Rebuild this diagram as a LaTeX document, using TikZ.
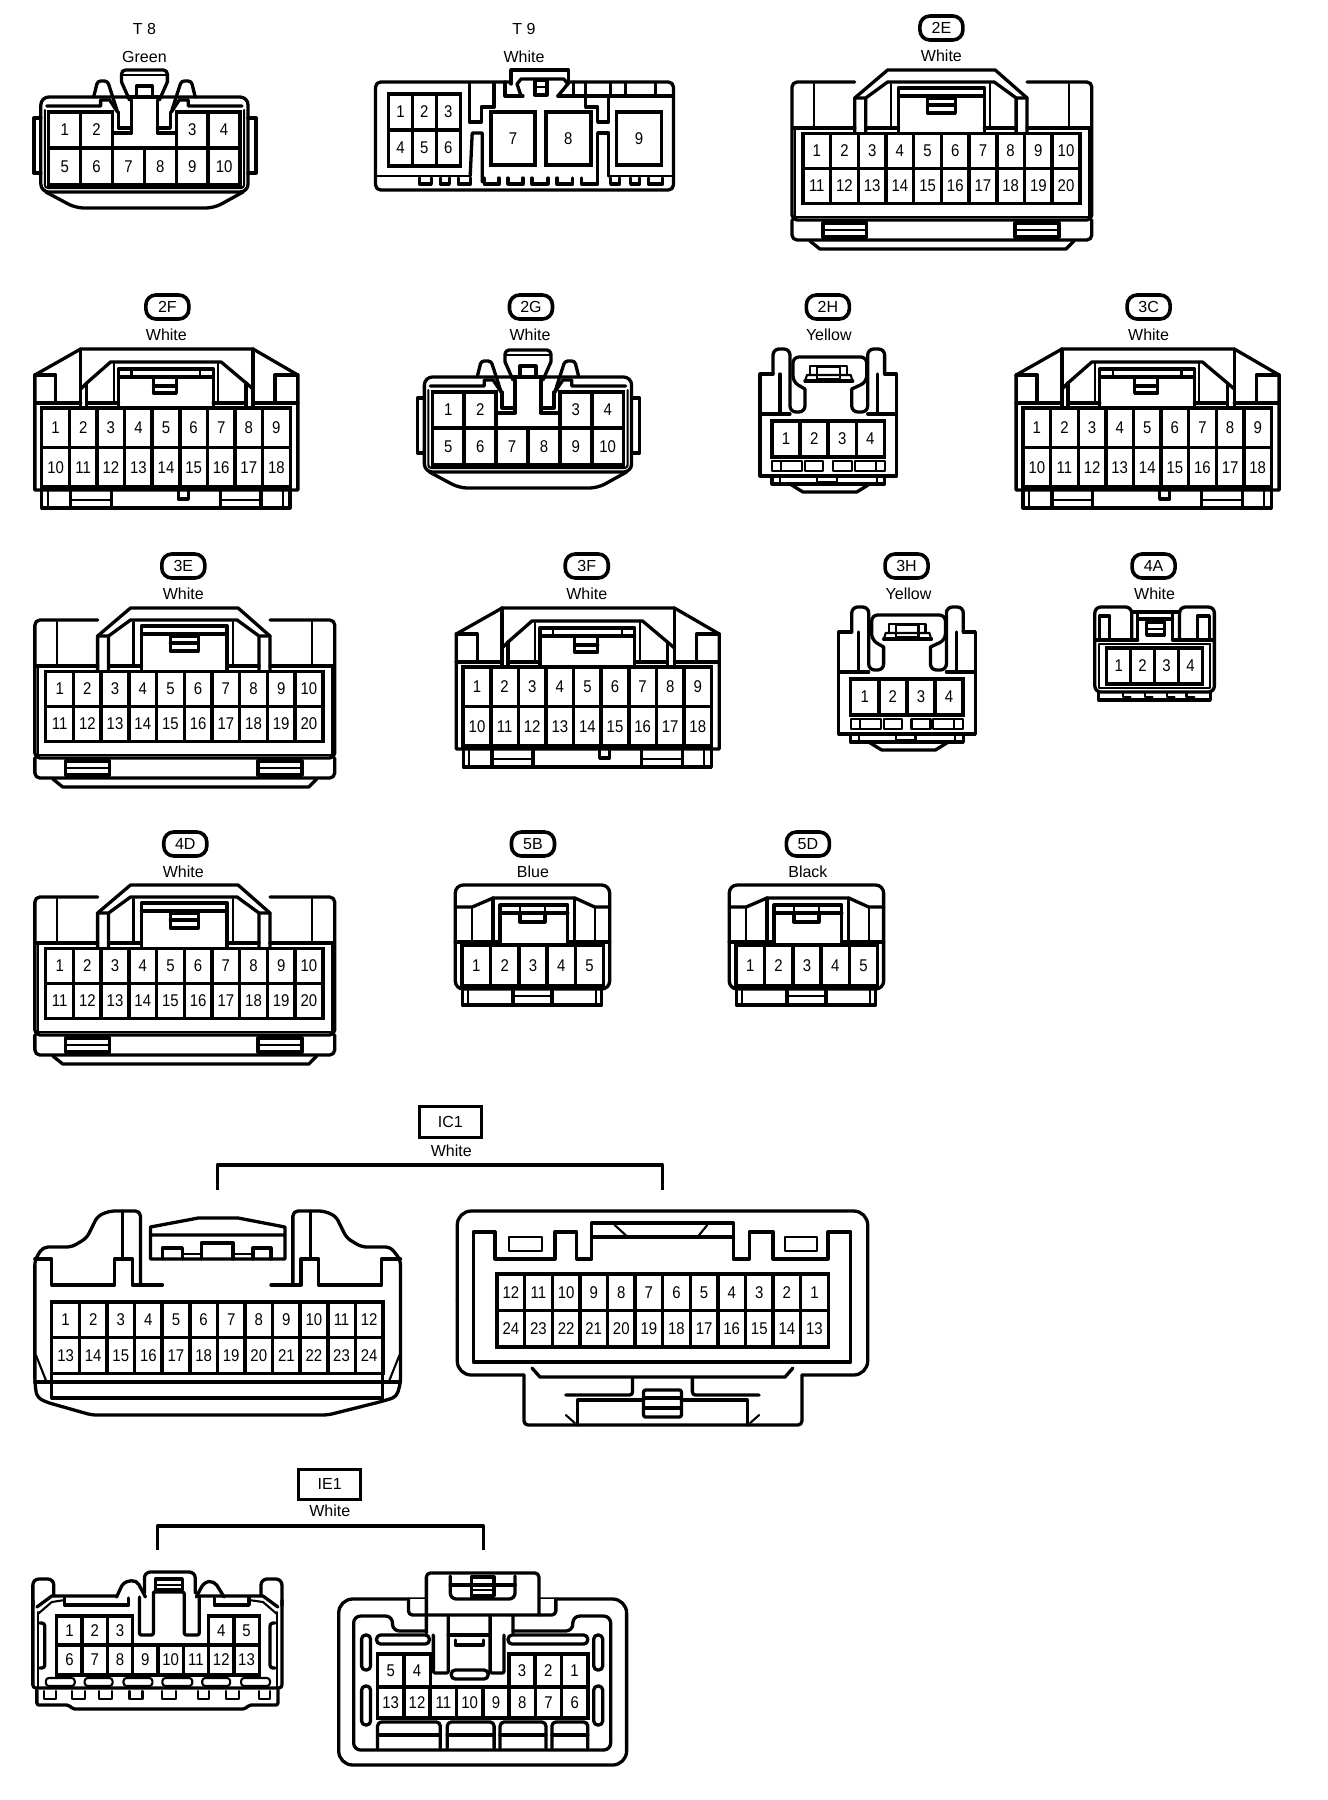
\documentclass[tikz,border=0pt]{standalone}
\usepackage{fontspec}
\setmainfont{Liberation Sans}
\newfontfamily\pinfont[FakeStretch=0.88]{Liberation Sans}
\tikzset{
  conn/.style={line width=3.3pt, line join=round, line cap=round},
  thinl/.style={line width=2.1pt, line join=round, line cap=round},
  pincell/.style={draw, line width=3.4pt, inner sep=0pt, outer sep=0pt, font=\pinfont\fontsize{17}{17}\selectfont},
  tagpill/.style={draw, line width=3.6pt, rounded corners=10pt, minimum width=43pt, minimum height=24pt, inner sep=0pt, font=\fontsize{16}{16}\selectfont},
  tagbox/.style={draw, line width=3pt, inner sep=0pt, font=\fontsize{16}{16}\selectfont},
  plainlabel/.style={inner sep=0pt, font=\fontsize{16}{16}\selectfont}
}
% row of pin cells: prefix, left x, cell width, top y, cell height, numbers
\newcommand{\pinrow}[6]{
  \foreach \n [count=\i from 0] in {#6} {
    \node[pincell, minimum width=#3pt, minimum height=#5pt] (#1-\n) at ({#2+(\i+0.5)*#3},{#4+#5/2}) {\n};
  }
}
% T8 and 2G
\newcommand{\tenway}[1]{
  \draw[conn] (41,118) -- (34,118) -- (34,173) -- (41,173);
  \draw[conn] (249,118) -- (257,118) -- (257,173) -- (249,173);
  \draw[conn, rounded corners=8pt] (41,140) -- (41,97) -- (249,97) -- (249,192) -- (41,192) -- cycle;
  \draw[thinl, rounded corners=3pt] (45,110) -- (45,188) -- (245,188) -- (245,110);
  \draw[conn, rounded corners=8pt] (46,192) -- (76,208) -- (215,208) -- (244,192);
  \draw[conn] (47,106) -- (101,106) -- (101,100) -- (110,100) -- (118,112);
  \draw[conn] (243,106) -- (189,106) -- (189,100) -- (180,100) -- (172,112);
  \draw[conn, rounded corners=3pt] (94,97) -- (98,81) -- (108,81) -- (118,112);
  \draw[conn, rounded corners=3pt] (196,97) -- (192,81) -- (182,81) -- (172,112);
  \draw[conn, rounded corners=4pt] (122,82) -- (122,70) -- (168,70) -- (168,82);
  \draw[thinl] (122,75) -- (168,75);
  \draw[conn] (122,82) -- (130,100) (168,82) -- (160,100);
  \draw[conn] (137,97) -- (137,86) -- (153,86) -- (153,97) (128,97) -- (162,97);
  \draw[conn] (114,133) -- (132,133) -- (132,100) (158,100) -- (158,133) -- (176,133);
  \draw[conn] (119,112) -- (119,128) -- (132,128) (171,112) -- (171,128) -- (158,128);
  \pinrow{#1}{49}{32}{112}{36}{1,2}
  \pinrow{#1}{177}{32}{112}{36}{3,4}
  \pinrow{#1}{49}{32}{148}{37}{5,6,7,8,9,10}
}
% 2E, 3E and 4D
\newcommand{\twentyway}[1]{
  \draw[conn, rounded corners=5pt] (63,12) -- (0,12) -- (0,150) -- (301,150) -- (301,12) -- (236,12);
  \draw[conn, rounded corners=5pt] (0,150) -- (0,170) -- (301,170) -- (301,150);
  \draw[conn] (18,171) -- (28,179) -- (275,179) -- (283,171);
  \draw[conn] (63,62) -- (63,28) -- (96,0) -- (204,0) -- (236,28) -- (236,62);
  \draw[conn] (74,62) -- (74,28) -- (96,12) -- (203,12) -- (225,28) -- (225,62) (63,28) -- (74,28) (225,28) -- (236,28);
  \draw[conn] (107,62) -- (107,18) -- (193,18) -- (193,62) (107,26) -- (193,26);
  \draw[conn] (136,28) -- (136,43) -- (164,43) -- (164,28) -- cycle (136,35) -- (164,35);
  \draw[conn] (2,58) -- (63,58) (74,58) -- (107,58) (193,58) -- (225,58) (236,58) -- (299,58);
  \foreach \a in {22,99,199,278} { \draw[thinl] (\a,14) -- (\a,56); }
  \draw[thinl] (3,58) -- (3,147) -- (298,147) -- (298,58);
  \foreach \a in {31,224} {
    \draw[conn] (\a,153) rectangle ++(44,14);
    \draw[thinl] (\a,160) -- ++(44,0);
  }
  \pinrow{#1}{11}{27.8}{63.5}{35}{1,2,3,4,5,6,7,8,9,10}
  \pinrow{#1}{11}{27.8}{98.5}{35}{11,12,13,14,15,16,17,18,19,20}
}
% 2F, 3C and 3F
\newcommand{\eighteenway}[1]{
  \draw[conn] (0,141) -- (0,26) -- (46,0) -- (219,0) -- (264,26) -- (264,141) -- cycle;
  \draw[conn] (0,26) -- (21,26) -- (21,54) (264,26) -- (241,26) -- (241,54);
  \draw[conn] (0,54) -- (46,54) (46,0) -- (46,59) (264,54) -- (219,54) (219,0) -- (219,59);
  \draw[conn] (46,40) -- (52,34) -- (76,13) -- (187,13) -- (212,34) -- (219,40);
  \draw[conn] (52,34) -- (52,59) (52,54) -- (84,54) (212,34) -- (212,59) (212,54) -- (179,54);
  \draw[thinl] (79,13) -- (79,54) (184,13) -- (184,54);
  \draw[conn] (84,59) -- (84,20) -- (179,20) -- (179,59) (84,28) -- (179,28);
  \draw[thinl] (97,20) -- (97,28) (166,20) -- (166,28);
  \draw[conn] (119,29) -- (119,44) -- (142,44) -- (142,29) (119,37) -- (142,37);
  \draw[conn] (7,141) -- (7,159) -- (256,159) -- (256,141);
  \draw[thinl] (13,141) -- (13,159) (249,141) -- (249,159);
  \foreach \a in {36,186} {
    \draw[conn] (\a,141) -- (\a,159) (\a+41,141) -- (\a+41,159);
    \draw[thinl] (\a,151) -- ++(41,0);
  }
  \draw[conn] (144,141) -- (144,150) -- (154,150) -- (154,141);
  \pinrow{#1}{7}{27.7}{59}{39.5}{1,2,3,4,5,6,7,8,9}
  \pinrow{#1}{7}{27.7}{98.5}{39.5}{10,11,12,13,14,15,16,17,18}
}
% 2H and 3H
\newcommand{\fourway}[1]{
  \draw[conn] (13,25) -- (0,25) -- (0,127) -- (137,127) -- (137,25) -- (125,25);
  \draw[conn, rounded corners=6pt] (13,25) -- (13,0) -- (30,0) -- (30,63) -- (45,63) -- (45,40);
  \draw[conn, rounded corners=6pt] (125,25) -- (125,0) -- (108,0) -- (108,63) -- (92,63) -- (92,40);
  \draw[conn] (20,25) -- (20,65) (118,25) -- (118,65);
  \draw[conn, rounded corners=6pt] (45,40) -- (33,33) -- (33,8) -- (107,8) -- (107,33) -- (92,40);
  \draw[thinl] (45,33) -- (47,26) -- (91,26) -- (93,33);
  \draw[conn] (45,32) -- (93,32);
  \draw[thinl] (50,26) -- (50,17) -- (87,17) -- (87,26);
  \draw[thinl] (57,18) rectangle (80,30);
  \draw[conn] (0,65) -- (30,65) (108,65) -- (137,65);
  \foreach \a/\b in {12/42,45/63,73/92,95/125} { \draw[thinl] (\a,112) rectangle (\b,122); }
  \draw[thinl] (21,112) -- (21,122) (116,112) -- (116,122);
  \draw[conn] (12,127) -- (12,135) -- (125,135) -- (125,127);
  \draw[conn] (30,135) -- (43,143) -- (97,143) -- (110,135);
  \draw[thinl] (20,127) -- (20,135) (117,127) -- (117,135) (57,133) -- (77,133) -- (77,127) (57,133) -- (57,127);
  \pinrow{#1}{12}{28.2}{72}{36}{1,2,3,4}
}
% 5B and 5D
\newcommand{\fiveway}[1]{
  \draw[conn, rounded corners=8pt] (0,104) -- (0,0) -- (155,0) -- (155,104) -- cycle;
  \draw[conn] (0,22) -- (17,22) -- (38,13) -- (120,13) -- (140,22) -- (155,22);
  \draw[thinl] (17,22) -- (17,57) (140,22) -- (140,57);
  \draw[conn] (38,13) -- (38,57) (120,13) -- (120,57);
  \draw[conn] (45,60) -- (45,20) -- (113,20) -- (113,60) (45,28) -- (113,28);
  \draw[thinl] (65,20) -- (65,28) (90,20) -- (90,28);
  \draw[conn] (65,28) -- (65,37) -- (90,37) -- (90,28);
  \draw[conn] (0,57) -- (45,57) (113,57) -- (155,57);
  \draw[conn] (7,104) -- (7,120) -- (147,120) -- (147,104);
  \draw[thinl] (13,104) -- (13,120) (141,104) -- (141,120);
  \draw[conn] (58,104) -- (58,120) (97,104) -- (97,120);
  \draw[thinl] (58,111) -- (97,111);
  \pinrow{#1}{7}{28.4}{60}{41}{1,2,3,4,5}
}
\begin{document}
\begin{tikzpicture}[x=0.9962pt, y=-1pt]
  \useasboundingbox (0,0) rectangle (1333.06,1800);

  % Labels of the connectors
  \node[plainlabel] (tagT8) at (145,29) {T 8};
  \node[plainlabel] (colT8) at (145,57) {Green};
  \node[plainlabel] (tagT9) at (526,29) {T 9};
  \node[plainlabel] (colT9) at (526,57) {White};
  \foreach \tag/\x/\y in {2E/945/28, 2F/168/307, 2G/533/307, 2H/831/307, 3C/1153/307,
      3E/184/566, 3F/589/566, 3H/910/566, 4A/1158/566, 4D/186/844, 5B/535/844, 5D/811/844} {
    \node[tagpill] (tag\tag) at (\x,\y) {\tag};
  }
  \node[plainlabel] (col2E) at (945,56) {White};
  \node[plainlabel] (col2F) at (167,335) {White};
  \node[plainlabel] (col2G) at (532,335) {White};
  \node[plainlabel] (col2H) at (832,335) {Yellow};
  \node[plainlabel] (col3C) at (1153,335) {White};
  \node[plainlabel] (col3E) at (184,594) {White};
  \node[plainlabel] (col3F) at (589,594) {White};
  \node[plainlabel] (col3H) at (912,594) {Yellow};
  \node[plainlabel] (col4A) at (1159,594) {White};
  \node[plainlabel] (col4D) at (184,872) {White};
  \node[plainlabel] (col5B) at (535,872) {Blue};
  \node[plainlabel] (col5D) at (811,872) {Black};

  % T8 and 2G
  \tenway{t8}
  \begin{scope}[shift={(385,280)}]
    \tenway{g2}
  \end{scope}

  % T9
  \draw[conn, rounded corners=5pt] (513,82) -- (377,82) -- (377,190) -- (676,190) -- (676,82) -- (571,82);
  \draw[conn] (513,84) -- (513,70) -- (571,70) -- (571,84);
  \draw[conn] (523,96) -- (519,84) -- (523,79) -- (566,79) -- (570,84) -- (560,96);
  \draw[conn] (507,82) -- (507,96) -- (525,96) (560,96) -- (576,96) -- (576,82);
  \draw[conn] (537,80) rectangle (549,95);
  \draw[thinl] (537,87) -- (549,87);
  \draw[conn] (576,96) -- (676,96);
  \foreach \a in {588,613,628,658} { \draw[conn] (\a,84) -- (\a,96); }
  \draw[conn] (471,84) -- (471,122) -- (483,122) -- (483,107) -- (496,107) -- (496,84);
  \draw[conn] (588,97) -- (588,107) -- (600,107) -- (600,122) -- (611,122) -- (611,97);
  \draw[conn] (472,176) -- (474,133) -- (484,133) -- (484,182);
  \draw[conn] (600,182) -- (600,133) -- (611,133) -- (611,176);
  \draw[thinl] (377,176) -- (472,176) (611,176) -- (676,176);
  \foreach \a/\b in {421/433,442/451,460/472,486/501,510/525,534/550,559/575,584/600,613/622,633/642,651/665} {
    \draw[conn] (\a,178) -- (\a,184) -- (\b,184) -- (\b,178);
  }
  \pinrow{t9}{390}{24}{94}{36}{1,2,3}
  \pinrow{t9}{390}{24}{130}{36}{4,5,6}
  \node[pincell, minimum width=44pt, minimum height=53pt] (t9-7) at (515,138.5) {7};
  \node[pincell, minimum width=45pt, minimum height=53pt] (t9-8) at (570.5,138.5) {8};
  \node[pincell, minimum width=45pt, minimum height=53pt] (t9-9) at (641.5,138.5) {9};

  % 2E, 3E and 4D
  \begin{scope}[shift={(795,70)}]
    \twentyway{e2}
  \end{scope}
  \begin{scope}[shift={(35,608)}]
    \twentyway{e3}
  \end{scope}
  \begin{scope}[shift={(35,885)}]
    \twentyway{d4}
  \end{scope}

  % 2F, 3C and 3F
  \begin{scope}[shift={(35,349)}]
    \eighteenway{f2}
  \end{scope}
  \begin{scope}[shift={(1020,349)}]
    \eighteenway{c3}
  \end{scope}
  \begin{scope}[shift={(458,608)}]
    \eighteenway{f3}
  \end{scope}

  % 2H and 3H
  \begin{scope}[shift={(763,349)}]
    \fourway{h2}
  \end{scope}
  \begin{scope}[shift={(842,607)}]
    \fourway{h3}
  \end{scope}

  % 4A
  \begin{scope}[shift={(1099,607)}]
    \draw[conn, rounded corners=6pt] (37,33) -- (37,0) -- (0,0) -- (0,85) -- (120,85) -- (120,0) -- (85,0) -- (85,33);
    \draw[conn] (37,5) -- (85,5) (43,12) -- (78,12) (43,5) -- (43,33) (78,5) -- (78,33);
    \draw[conn] (5,33) -- (5,9) -- (15,9) -- (15,33) (115,33) -- (115,9) -- (103,9) -- (103,33);
    \draw[conn] (52,15) rectangle (70,28);
    \draw[thinl] (52,22) -- (70,22);
    \draw[conn] (0,33) -- (43,33) (78,33) -- (120,33);
    \draw[thinl] (4,37) -- (116,37) (4,37) -- (4,81) -- (116,81) -- (116,37);
    \draw[conn] (4,85) -- (4,93) -- (116,93) -- (116,85);
    \foreach \a in {28,50,72,92} { \draw[thinl] (\a,85) -- (\a,90) -- (\a+8,90); }
    \pinrow{a4}{12}{24}{41}{36}{1,2,3,4}
  \end{scope}

  % 5B and 5D
  \begin{scope}[shift={(457,885)}]
    \fiveway{b5}
  \end{scope}
  \begin{scope}[shift={(732,885)}]
    \fiveway{d5}
  \end{scope}

  % Label and bracket of IC1
  \node[tagbox, minimum width=62pt, minimum height=31pt] (tagIC1) at (452,1122) {IC1};
  \node[plainlabel] (colIC1) at (453,1151) {White};
  \coordinate (ic1left) at (218,1190);
  \coordinate (ic1right) at (665,1190);
  \draw[conn, line cap=butt] (ic1left) -- ++(0,-25) -| (ic1right);

  % IC1 left part
  \draw[conn, rounded corners=5pt] (141,1285) -- (141,1211) -- (110,1211) -- (98,1216) -- (87,1238) -- (72,1247) -- (43,1247) -- (35,1260) -- (35,1383) -- (37,1397) -- (46,1402) -- (92,1415) -- (329,1415) -- (381,1402) -- (398,1397) -- (402,1383) -- (402,1260) -- (392,1247) -- (363,1247) -- (348,1238) -- (337,1216) -- (325,1211) -- (294,1211) -- (294,1285);
  \draw[conn] (123,1211) -- (123,1258) (312,1211) -- (312,1258);
  \draw[conn] (35,1259) -- (52,1259) -- (52,1285) -- (115,1285) -- (115,1259) -- (133,1259) -- (133,1285) -- (163,1285);
  \draw[conn] (402,1259) -- (383,1259) -- (383,1285) -- (320,1285) -- (320,1259) -- (302,1259) -- (302,1285) -- (272,1285);
  \draw[conn] (151,1227) -- (199,1218) -- (239,1218) -- (286,1227) -- (286,1259) -- (151,1259) -- cycle (151,1235) -- (286,1235);
  \draw[conn] (163,1259) -- (163,1248) -- (183,1248) -- (183,1259) (202,1259) -- (202,1243) -- (234,1243) -- (234,1259) (254,1259) -- (254,1248) -- (272,1248) -- (272,1259);
  \draw[thinl] (183,1254) -- (202,1254) (234,1254) -- (254,1254);
  \draw[conn] (35,1382) -- (402,1382);
  \draw[conn] (52,1373) -- (52,1398) -- (384,1398) -- (384,1373);
  \draw[thinl] (36,1355) -- (46,1380) (401,1355) -- (391,1380);
  \pinrow{ic1a}{52}{27.7}{1302}{35.7}{1,2,3,4,5,6,7,8,9,10,11,12}
  \pinrow{ic1a}{52}{27.7}{1337.7}{35.7}{13,14,15,16,17,18,19,20,21,22,23,24}

  % IC1 right part
  \draw[conn, rounded corners=14pt] (459,1300) -- (459,1211) -- (871,1211) -- (871,1375) -- (805,1375);
  \draw[conn, rounded corners=14pt] (526,1375) -- (459,1375) -- (459,1300);
  \draw[conn, rounded corners=4pt] (526,1375) -- (526,1425) -- (805,1425) -- (805,1375);
  \draw[conn] (475,1362) -- (475,1232) -- (497,1232) -- (497,1259) -- (557,1259) -- (557,1232) -- (579,1232) -- (579,1259) -- (594,1259) -- (594,1223) -- (736,1223) -- (736,1259) -- (752,1259) -- (752,1232) -- (776,1232) -- (776,1259) -- (831,1259) -- (831,1232) -- (854,1232) -- (854,1362) -- cycle;
  \draw[conn] (594,1237) -- (736,1237);
  \draw[thinl] (617,1225) -- (629,1236) (710,1225) -- (701,1236);
  \draw[thinl] (511,1237) rectangle (544,1251) (788,1237) rectangle (820,1251);
  \draw[conn] (534,1368) -- (542,1377) -- (788,1377) -- (796,1368);
  \draw[conn, rounded corners=3pt] (635,1378) -- (635,1395) -- (568,1395) (695,1378) -- (695,1395) -- (762,1395);
  \draw[conn, rounded corners=2pt] (646,1390) rectangle (684,1417);
  \draw[conn] (646,1398) -- (684,1398) (646,1408) -- (684,1408);
  \draw[conn] (580,1425) -- (580,1400) -- (646,1400) (750,1425) -- (750,1400) -- (684,1400);
  \draw[thinl] (568,1415) -- (577,1423) (762,1415) -- (753,1423);
  \pinrow{ic1b}{499}{27.7}{1274}{36.5}{12,11,10,9,8,7,6,5,4,3,2,1}
  \pinrow{ic1b}{499}{27.7}{1310.5}{36.5}{24,23,22,21,20,19,18,17,16,15,14,13}

  % Label and bracket of IE1
  \node[tagbox, minimum width=62pt, minimum height=30pt] (tagIE1) at (331,1484) {IE1};
  \node[plainlabel] (colIE1) at (331,1511) {White};
  \coordinate (ie1left) at (158,1550);
  \coordinate (ie1right) at (485,1550);
  \draw[conn, line cap=butt] (ie1left) -- ++(0,-24) -| (ie1right);

  % IE1 left part
  \draw[conn, rounded corners=6pt] (33,1606) -- (33,1579) -- (54,1579) -- (54,1596);
  \draw[conn, rounded corners=6pt] (283,1606) -- (283,1579) -- (262,1579) -- (262,1596);
  \draw[conn, rounded corners=3pt] (33,1600) -- (33,1688) -- (283,1688) -- (283,1600);
  \draw[conn] (37,1607) -- (52,1596) -- (117,1596) (279,1607) -- (264,1596) -- (199,1596);
  \draw[thinl] (38,1614) -- (52,1602) -- (65,1600) (278,1614) -- (264,1602) -- (250,1600);
  \draw[thinl] (38,1612) -- (38,1688) (278,1612) -- (278,1688);
  \draw[conn] (65,1598) -- (65,1605) -- (129,1605) -- (129,1598) (215,1598) -- (215,1605) -- (250,1605) -- (250,1598);
  \draw[conn, rounded corners=6pt] (145,1593) -- (145,1572) -- (196,1572) -- (196,1593);
  \draw[conn] (156,1579) rectangle (183,1590);
  \draw[thinl] (156,1585) -- (183,1585);
  \draw[conn, rounded corners=5pt] (117,1597) -- (124,1582) -- (137,1580) -- (146,1597) (225,1597) -- (215,1581) -- (205,1582) -- (197,1597);
  \draw[conn, rounded corners=2pt] (154,1592) -- (154,1635) -- (140,1635) -- (140,1597) (154,1592) -- (185,1592) -- (185,1635) -- (200,1635) -- (200,1597);
  \draw[conn, rounded corners=3pt] (40,1623) -- (45,1623) -- (45,1668) -- (40,1668) (276,1623) -- (271,1623) -- (271,1668) -- (276,1668);
  \foreach \a/\b in {46/75,85/113,124/153,163/193,203/231,242/271} {
    \draw[thinl, rounded corners=3pt] (\a,1678) rectangle (\b,1686);
  }
  \draw[conn, rounded corners=2pt] (37,1690) -- (37,1705) -- (69,1705) -- (73,1709) -- (246,1709) -- (250,1705) -- (279,1705) -- (279,1690);
  \foreach \a/\b in {44/56,72/85,99/112,130/143,163/177,199/210,227/240,260/271} {
    \draw[thinl] (\a,1691) -- (\a,1699) -- (\b,1699) -- (\b,1691);
  }
  \pinrow{ie1a}{57}{25.4}{1616}{29}{1,2,3}
  \pinrow{ie1a}{209.4}{25.4}{1616}{29}{4,5}
  \pinrow{ie1a}{57}{25.4}{1645}{30}{6,7,8,9,10,11,12,13}

  % IE1 right part
  \draw[conn, rounded corners=14pt] (427,1599) -- (340,1599) -- (340,1765) -- (629,1765) -- (629,1599) -- (541,1599);
  \draw[conn, fill=white, rounded corners=4pt] (410,1599) -- (410,1615) -- (558,1615) -- (558,1599);
  \draw[conn, rounded corners=4pt] (428,1633) -- (428,1573) -- (541,1573) -- (541,1615);
  \draw[conn, rounded corners=6pt] (452,1576) -- (452,1599) -- (517,1599) -- (517,1576);
  \draw[conn] (452,1585) -- (517,1585);
  \draw[conn] (473,1577) rectangle (496,1596);
  \draw[thinl] (473,1590) -- (496,1590);
  \draw[conn, rounded corners=7pt] (427,1631) -- (394,1631) -- (394,1616) -- (355,1616) -- (355,1750) -- (613,1750) -- (613,1616) -- (575,1616) -- (575,1631) -- (515,1631);
  \foreach \a/\b in {378/431,510/590} { \draw[conn, rounded corners=4pt] (\a,1635) rectangle (\b,1644); }
  \draw[conn, rounded corners=2pt] (435,1635) -- (435,1673) -- (450,1673) -- (450,1616) (492,1616) -- (492,1673) -- (506,1673) -- (506,1635) (515,1616) -- (515,1633);
  \draw[conn] (450,1635) -- (492,1635) (457,1640) -- (457,1645) -- (485,1645) -- (485,1640);
  \draw[conn, rounded corners=4pt] (453,1670) rectangle (490,1679);
  \foreach \a in {363,596} {
    \draw[conn, rounded corners=4pt] (\a,1635) rectangle (\a+9,1670);
    \draw[conn, rounded corners=4pt] (\a,1686) rectangle (\a+9,1725);
  }
  \foreach \a/\b in {379/442,449/496,502/548,554/590} {
    \draw[conn, rounded corners=4pt] (\a,1748) -- (\a,1722) -- (\b,1722) -- (\b,1748);
    \draw[conn] (\a,1735) -- (\b,1735);
  }
  \pinrow{ie1b}{379}{26.4}{1654}{33}{5,4}
  \pinrow{ie1b}{510.8}{26.4}{1654}{33}{3,2,1}
  \pinrow{ie1b}{379}{26.4}{1687}{31}{13,12,11,10,9,8,7,6}
\end{tikzpicture}
\end{document}
